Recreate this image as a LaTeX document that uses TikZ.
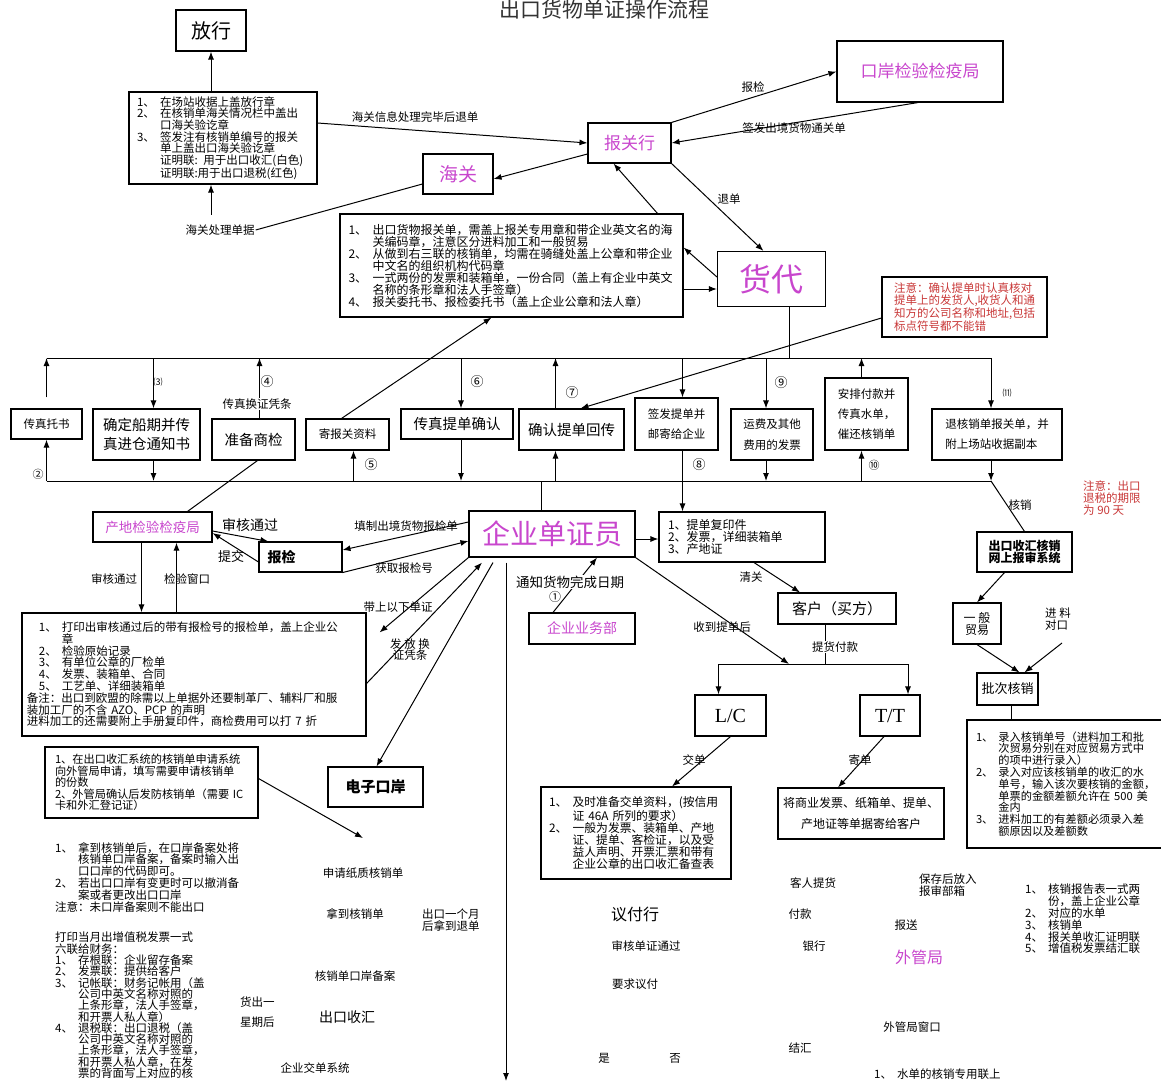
\documentclass[tikz,border=0pt]{standalone}
\usepackage{fontspec}
\setmainfont{Noto Sans CJK SC}
\newfontfamily\latinserif{Liberation Serif}
\usetikzlibrary{arrows.meta}
\definecolor{mag}{RGB}{200,70,205}
\definecolor{notered}{RGB}{200,55,55}
\newcommand\fsz[2]{\fontsize{#1}{#2}\selectfont}
\newcommand\itemno[1]{\makebox[2em][l]{#1、}}
\newcommand\itemgap{\hspace*{2em}}

\begin{document}
\begin{tikzpicture}[x=1pt, y=-1pt,
    box/.style={draw, line width=1.1pt, inner sep=2pt, align=center},
    txt/.style={font=\fsz{11.5}{11.8}, inner sep=0pt, align=left},
    lbl/.style={font=\fsz{11.5}{12}, inner sep=1pt},
    num/.style={font=\fsz{13}{13}, inner sep=0pt},
    arr/.style={line width=1pt, -{Latex[length=8pt,width=6pt]}},
    con/.style={line width=1pt}]

    \useasboundingbox (0,0) rectangle (1161,1083);

    \node[font=\fsz{21}{21}, text=black!80] (title) at (604,9) {出口货物单证操作流程};

    \node[box, minimum width=70pt, minimum height=41pt, font=\fsz{20}{20}] (fangxing) at (211,30.5) {放行};
    \node[box, minimum width=188pt, minimum height=92pt, text width=172pt, align=left, font=\fsz{11.5}{11.7}] (customsnote) at (223,138) {\itemno{1}在场站收据上盖放行章\\\itemno{2}在核销单海关情况栏中盖出\\\itemgap 口海关验讫章\\\itemno{3}签发注有核销单编号的报关\\\itemgap 单上盖出口海关验讫章\\\itemgap 证明联: 用于出口收汇(白色)\\\itemgap 证明联:用于出口退税(红色)};
    \node[lbl] (hgdoc) at (220,230) {海关处理单据};
    \coordinate (hgtip) at (211,215);
    \node[box, minimum width=70pt, minimum height=40pt, font=\fsz{19}{19}, text=mag] (haiguan) at (458,174) {海关};
    \node[box, minimum width=83pt, minimum height=40pt, font=\fsz{17}{17}, text=mag] (bgh) at (629.5,143) {报关行};
    \node[box, minimum width=166pt, minimum height=61pt, font=\fsz{17}{17}, text=mag] (kouan) at (920,71.5) {口岸检验检疫局};
    \node[box, minimum width=343pt, minimum height=103pt, text width=326pt, align=left, font=\fsz{12}{12}] (declbox) at (511.5,265.5) {\itemno{1}出口货物报关单，需盖上报关专用章和带企业英文名的海\\\itemgap 关编码章，注意区分进料加工和一般贸易\\\itemno{2}从做到右三联的核销单，均需在骑缝处盖上公章和带企业\\\itemgap 中文名的组织机构代码章\\\itemno{3}一式两份的发票和装箱单，一份合同（盖上有企业中英文\\\itemgap 名称的条形章和法人手签章）\\\itemno{4}报关委托书、报检委托书（盖上企业公章和法人章）};
    \node[box, minimum width=108pt, minimum height=55pt, font=\fsz{32}{32}, text=mag] (huodai) at (771.5,279) {货代};
    \node[box, minimum width=165pt, minimum height=60pt, text width=141pt, align=left, text=notered, font=\fsz{11.5}{11.5}] (warnnote) at (964.5,307) {注意：确认提单时认真核对\\提单上的发货人,收货人和通\\知方的公司名称和地址,包括\\标点符号都不能错};

    \draw[arr] (customsnote.north -| fangxing) -- (fangxing.south);
    \draw[arr] (hgtip) -- (customsnote.south -| hgtip);
    \draw[con] (hgdoc.east) -- ([yshift=-10pt]haiguan.west);
    \draw[arr] ([yshift=15pt]customsnote.east) -- (bgh.west);
    \node[lbl] (lblback) at (415,117) {海关信息处理完毕后退单};
    \draw[arr] ([yshift=-11pt]bgh.west) -- ([yshift=-5pt]haiguan.east);
    \draw[arr] (bgh.north east) -- (kouan.west);
    \node[lbl] (lblcheck) at (753,87) {报检};
    \draw[arr] ([xshift=-2pt]kouan.south) -- (bgh.east);
    \node[lbl] (lblpass) at (794,128) {签发出境货物通关单};
    \draw[arr] (bgh.south east) -- ([xshift=-8pt]huodai.north);
    \node[lbl] (lblreturn) at (729,199) {退单};
    \draw[arr] ([xshift=146pt]declbox.north) -- ([xshift=-16pt]bgh.south);
    \draw[arr] ([yshift=-10pt]huodai.west -| declbox.east) -- ([yshift=-10pt]huodai.west);
    \draw[arr] ([yshift=2pt]huodai.west) -- ([yshift=18pt]declbox.east);

    \coordinate (topl) at (0,358);
    \coordinate (botl) at (0,481);

    \node[box, minimum width=71pt, minimum height=30pt, font=\fsz{11.5}{12}] (faxbook) at (46.5,424) {传真托书};
    \node[box, minimum width=107pt, minimum height=51pt, font=\fsz{14.5}{19}] (shipdate) at (146.5,434.5) {确定船期并传\\真进仓通知书};
    \node[box, minimum width=83pt, minimum height=41pt, font=\fsz{14.5}{15}] (prepinsp) at (253.5,439.5) {准备商检};
    \node[box, minimum width=83pt, minimum height=31pt, font=\fsz{11.5}{12}] (senddocs) at (347.5,434.5) {寄报关资料};
    \node[box, minimum width=112pt, minimum height=30pt, font=\fsz{14.5}{15}] (faxbl) at (457,424) {传真提单确认};
    \node[box, minimum width=105pt, minimum height=41pt, font=\fsz{14.5}{15}] (confirmbl) at (571.5,429.5) {确认提单回传};
    \node[box, minimum width=83pt, minimum height=52pt, font=\fsz{11.5}{20}] (issuebl) at (676.5,424) {签发提单并\\邮寄给企业};
    \node[box, minimum width=82pt, minimum height=51pt, font=\fsz{11.5}{21}] (freight) at (772,434.5) {运费及其他\\费用的发票};
    \node[box, minimum width=83pt, minimum height=72pt, font=\fsz{11.5}{20}, align=left] (payment) at (866.5,414) {安排付款并\\传真水单，\\催还核销单};
    \node[box, minimum width=130pt, minimum height=51pt, font=\fsz{11.5}{20}, align=left] (returnform) at (997,434.5) {退核销单报关单，并\\附上场站收据副本};

    \draw[con] (faxbook.north |- topl) -- ([xshift=-6pt]returnform.north |- topl);
    \draw[con] (faxbook.south |- botl) -- ([xshift=-6pt]returnform.south |- botl);
    \draw[con] ([xshift=18pt]huodai.south) -- ([xshift=18pt]huodai.south |- topl);

    \draw[arr] ([yshift=11pt]faxbook.north) -- (faxbook.north |- topl);
    \draw[arr] (faxbook.south |- botl) -- (faxbook.south);
    \draw[arr] ([xshift=7pt]shipdate.north |- topl) -- ([xshift=7pt]shipdate.north);
    \draw[arr] ([xshift=7pt]shipdate.south) -- ([xshift=7pt]shipdate.south |- botl);
    \draw[arr] ([xshift=6pt]prepinsp.north) -- ([xshift=6pt]prepinsp.north |- topl);
    \draw[arr] ([xshift=6pt]senddocs.south |- botl) -- ([xshift=6pt]senddocs.south);
    \draw[arr] ([xshift=-6pt]senddocs.north) -- ([xshift=-20pt]declbox.south);
    \draw[arr] ([xshift=4pt]faxbl.north |- topl) -- ([xshift=4pt]faxbl.north);
    \draw[arr] ([xshift=4pt]faxbl.south) -- ([xshift=4pt]faxbl.south |- botl);
    \draw[arr] ([xshift=-16pt]confirmbl.north) -- ([xshift=-16pt]confirmbl.north |- topl);
    \draw[arr] ([xshift=-16pt]confirmbl.south |- botl) -- ([xshift=-16pt]confirmbl.south);
    \draw[arr] ([yshift=-11pt]warnnote.west) -- ([xshift=9pt]confirmbl.north);
    \draw[arr] ([xshift=6pt]issuebl.north |- topl) -- ([xshift=6pt]issuebl.north);
    \draw[arr] ([xshift=-6pt]freight.north |- topl) -- ([xshift=-6pt]freight.north);
    \draw[arr] ([xshift=-6pt]freight.south) -- ([xshift=-6pt]freight.south |- botl);
    \draw[arr] ([xshift=-5pt]payment.north) -- ([xshift=-5pt]payment.north |- topl);
    \draw[arr] ([xshift=-5pt]payment.south |- botl) -- ([xshift=-5pt]payment.south);
    \draw[arr] ([xshift=-6pt]returnform.north |- topl) -- ([xshift=-6pt]returnform.north);
    \draw[arr] ([xshift=-6pt]returnform.south) -- ([xshift=-6pt]returnform.south |- botl);

    \node[lbl, fill=white] (lblswap) at (257,404) {传真换证凭条};
    \node[num, font=\fsz{11}{11}] (c2) at (38,474) {②};
    \node[num, font=\fsz{9}{9}] (c3) at (158,382) {⑶};
    \node[num] (c4) at (267,382) {④};
    \node[num] (c5) at (371,465) {⑤};
    \node[num] (c6) at (477,382) {⑥};
    \node[num] (c7) at (572,393) {⑦};
    \node[num] (c8) at (699,465) {⑧};
    \node[num] (c9) at (781,383) {⑨};
    \node[num, font=\fsz{11}{11}] (c10) at (874,465) {⑩};
    \node[num, font=\fsz{9}{9}] (c11) at (1007,393) {⑾};

    \node[box, minimum width=166pt, minimum height=46pt, font=\fsz{28}{28}, text=mag] (clerk) at (552,534) {企业单证员};
    \node[box, minimum width=119pt, minimum height=30pt, font=\fsz{13.5}{14}, text=mag] (chandi) at (152.5,527) {产地检验检疫局};
    \node[box, minimum width=83pt, minimum height=30pt, text width=66pt, align=left, font=\fsz{14}{14}\bfseries] (baojian) at (300.5,557) {报检};
    \node[box, minimum width=344pt, minimum height=123pt, text width=334pt, align=left, font=\fsz{11.5}{11.8}] (bigleft) at (194,674.5) {\hspace*{12pt}\itemno{1}打印出审核通过后的带有报检号的报检单，盖上企业公\\\hspace*{12pt}\itemgap 章\\\hspace*{12pt}\itemno{2}检验原始记录\\\hspace*{12pt}\itemno{3}有单位公章的厂检单\\\hspace*{12pt}\itemno{4}发票、装箱单、合同\\\hspace*{12pt}\itemno{5}工艺单、详细装箱单\\备注：出口到欧盟的除需以上单据外还要制革厂、辅料厂和服\\装加工厂的不含 AZO、PCP 的声明\\进料加工的还需要附上手册复印件，商检费用可以打 7 折};
    \node[box, minimum width=95pt, minimum height=40pt, font=\fsz{15}{15}\bfseries] (dzka) at (375.5,787) {电子口岸};
    \node[box, minimum width=213pt, minimum height=71pt, text width=193pt, align=left, font=\fsz{11.2}{11.6}] (leftapp) at (151.5,782.5) {1、在出口收汇系统的核销单申请系统\\向外管局申请，填写需要申请核销单\\的份数\\2、外管局确认后发防核销单（需要 IC\\卡和外汇登记证）};
    \node[box, minimum width=106pt, minimum height=31pt, font=\fsz{14}{14}, text=mag] (dept) at (582,628.5) {企业业务部};

    \draw[con] ([xshift=4pt]prepinsp.south) -- ([xshift=35pt]chandi.north);
    \draw[con] ([xshift=-11pt]clerk.north |- botl) -- ([xshift=-11pt]clerk.north);
    \draw[arr] ([yshift=-4pt]chandi.east) -- ([xshift=10pt]baojian.north west);
    \draw[arr] ([yshift=-5pt]baojian.west) -- ([yshift=-6pt]chandi.east);
    \node[lbl, font=\fsz{14}{14}] (lblok1) at (250,525) {审核通过};
    \node[lbl, font=\fsz{13}{13}] (lblsubmit) at (231,557) {提交};
    \draw[arr] ([yshift=12pt]clerk.west) -- ([yshift=7pt]baojian.east);
    \node[lbl] (lblfill) at (406,526) {填制出境货物报检单};
    \draw[arr] (baojian.south east) -- ([yshift=-7pt]clerk.west);
    \node[lbl] (lblget) at (404,568) {获取报检号};
    \draw[arr] ([xshift=-11pt]chandi.south) -- ([xshift=-11pt]chandi.south |- bigleft.north);
    \draw[arr] ([xshift=24pt]chandi.south |- bigleft.north) -- ([xshift=24pt]chandi.south);
    \node[lbl] (lblok2) at (114,579) {审核通过};
    \node[lbl] (lblwin) at (187,579) {检验窗口};
    \draw[arr] (clerk.south west) -- ([xshift=13pt,yshift=-20pt]bigleft.north east);
    \node[lbl] (lbltake) at (398,607) {带上以下单证};
    \draw[arr] ([yshift=-9pt]bigleft.east) -- ([xshift=-70pt,yshift=-5pt]clerk.south);
    \node[lbl, align=center, font=\fsz{11.5}{11}] (lblissue) at (410,650) {发 放 换\\证凭条};
    \draw[arr] ([xshift=-59pt,yshift=-5pt]clerk.south) -- ([xshift=1pt]dzka.north);
    \coordinate (paperend) at (363,838);
    \draw[arr] ([yshift=4pt]leftapp.east) -- (paperend);
    \coordinate (timeend) at (506,1081);
    \draw[arr] ([xshift=-46pt,yshift=-5pt]clerk.south) -- (timeend);
    \draw[arr] ([xshift=-29pt]dept.north) -- ([xshift=45pt]clerk.south);
    \node[lbl, fill=white, font=\fsz{13.5}{14}] (lblnotify) at (570,582) {通知货物完成日期};
    \node[num, font=\fsz{12}{12}] (c1) at (555,597) {①};

    \node[box, minimum width=166pt, minimum height=50pt, text width=148pt, align=left, font=\fsz{12}{12}] (docsbox) at (742,537) {1、提单复印件\\2、发票，详细装箱单\\3、产地证};
    \node[box, minimum width=118pt, minimum height=31pt, font=\fsz{15}{15}] (kehu) at (837,608.5) {客户（买方）};
    \node[box, minimum width=71pt, minimum height=41pt, font=\latinserif\fsz{20}{20}] (lc) at (730.5,715.5) {L/C};
    \node[box, minimum width=60pt, minimum height=41pt, font=\latinserif\fsz{20}{20}] (tt) at (890,715.5) {T/T};
    \node[box, minimum width=190pt, minimum height=92pt, text width=174pt, align=left, font=\fsz{11.8}{10.8}] (lcdocs) at (636,833) {\itemno{1}及时准备交单资料，(按信用\\\itemgap 证 46A 所列的要求）\\\itemno{2}一般为发票、装箱单、产地\\\itemgap 证、提单、客检证，以及受\\\itemgap 益人声明、开票汇票和带有\\\itemgap 企业公章的出口收汇备查表\\[8pt]};
    \node[box, minimum width=166pt, minimum height=51pt, font=\fsz{12}{21}] (ttdocs) at (861,813.5) {将商业发票、纸箱单、提单、\\产地证等单据寄给客户};
    \coordinate (fork) at (825,664);

    \draw[arr] ([yshift=-5pt]clerk.east) -- ([yshift=-5pt]clerk.east -| docsbox.west);
    \draw[arr] ([xshift=12pt]docsbox.south) -- ([xshift=-37pt]kehu.north);
    \node[lbl] (lblclear) at (751,577) {清关};
    \draw[arr] ([xshift=6pt]issuebl.south) -- ([xshift=6pt]issuebl.south |- docsbox.north);
    \draw[arr] (clerk.south east) -- ([xshift=-36pt]fork);
    \node[lbl] (lblrecv) at (722,627) {收到提单后};
    \draw[con] ([xshift=-12pt]kehu.south) -- (fork);
    \draw[arr] (fork) -| ([xshift=-12pt]lc.north);
    \draw[arr] (fork) -| ([xshift=18pt]tt.north);
    \node[lbl, fill=white] (lblpay) at (835,647) {提货付款};
    \draw[arr] (lc.south) -- ([xshift=36pt]lcdocs.north);
    \node[lbl] (lblsubmitdoc) at (694,760) {交单};
    \draw[arr] ([xshift=-6pt]tt.south) -- ([xshift=-23pt]ttdocs.north);
    \node[lbl] (lblmail) at (860,760) {寄单};

    \node[box, minimum width=95pt, minimum height=40pt, font=\fsz{12}{12}\bfseries] (hxsys) at (1024.5,552) {出口收汇核销\\网上报审系统};
    \node[txt, text=notered, anchor=north west] (taxnote) at (1083,481) {注意：出口\\退税的期限\\为 90 天};
    \node[box, minimum width=48pt, minimum height=41pt, font=\fsz{12}{12}] (ybmy) at (977,623.5) {一 般\\贸易};
    \node[txt, anchor=north west] (jinliao) at (1045,608) {进 料\\对口};
    \coordinate (jlstart) at (1062,643);
    \node[box, minimum width=61pt, minimum height=32pt, font=\fsz{13}{13}] (pici) at (1007.5,689) {批次核销};
    \node[box, minimum width=208pt, minimum height=128pt, text width=190pt, align=left, font=\fsz{11.2}{11.8}] (bigright) at (1071,784) {\itemno{1}录入核销单号（进料加工和批\\\itemgap 次贸易分别在对应贸易方式中\\\itemgap 的项中进行录入）\\\itemno{2}录入对应该核销单的收汇的水\\\itemgap 单号，输入该次要核销的金额，\\\itemgap 单票的金额差额允许在 500 美\\\itemgap 金内\\\itemno{3}进料加工的有差额必须录入差\\\itemgap 额原因以及差额数};

    \draw[con] ([xshift=-6pt]returnform.south |- botl) -- (hxsys.north);
    \node[lbl] (lblhx) at (1020,505) {核销};
    \draw[arr] ([xshift=-20pt]hxsys.south) -- (ybmy.north);
    \draw[arr] (ybmy.south) -- ([xshift=12pt]pici.north);
    \draw[arr] (jlstart) -- ([xshift=17pt]pici.north);
    \draw[con] ([xshift=4pt]pici.south) -- ([xshift=4pt]pici.south |- bigright.north);

    \node[txt, anchor=north west] (kouanrec) at (55,842) {\itemno{1}拿到核销单后，在口岸备案处将\\\itemgap 核销单口岸备案，备案时输入出\\\itemgap 口口岸的代码即可。\\\itemno{2}若出口口岸有变更时可以撤消备\\\itemgap 案或者更改出口口岸\\注意：未口岸备案则不能出口};
    \node[txt, anchor=north west, font=\fsz{11.5}{11.3}] (vatnote) at (55,932) {打印当月出增值税发票一式\\六联给财务：\\\itemno{1}存根联：企业留存备案\\\itemno{2}发票联：提供给客户\\\itemno{3}记帐联：财务记帐用（盖\\\itemgap 公司中英文名称对照的\\\itemgap 上条形章，法人手签章，\\\itemgap 和开票人私人章）\\\itemno{4}退税联：出口退税（盖\\\itemgap 公司中英文名称对照的\\\itemgap 上条形章，法人手签章，\\\itemgap 和开票人私人章，在发\\\itemgap 票的背面写上对应的核};
    \node[lbl] (applypaper) at (363,873) {申请纸质核销单};
    \node[lbl] (gotform) at (355,914) {拿到核销单};
    \node[txt, anchor=north west] (onemonth) at (422,909) {出口一个月\\后拿到退单};
    \node[lbl] (formrec) at (355,976) {核销单口岸备案};
    \node[txt, anchor=north west, font=\fsz{11.5}{20}] (oneweek) at (240,997) {货出一\\星期后};
    \node[lbl, font=\fsz{14}{14}] (collect) at (347,1017) {出口收汇};
    \node[lbl] (submitsys) at (315,1068) {企业交单系统};

    \node[lbl, font=\fsz{16}{16}] (negbank) at (635,914) {议付行};
    \node[lbl] (auditok) at (646,946) {审核单证通过};
    \node[lbl] (reqneg) at (635,984) {要求议付};
    \node[lbl] (yes) at (604,1058) {是};
    \node[lbl] (no) at (675,1058) {否};
    \node[lbl] (pickup) at (813,883) {客人提货};
    \node[lbl] (paying) at (800,914) {付款};
    \node[lbl] (bank) at (814,946) {银行};
    \node[lbl] (settle) at (800,1048) {结汇};
    \node[txt, anchor=north west] (savebox) at (919,874) {保存后放入\\报审部箱};
    \node[lbl] (report) at (906,925) {报送};
    \node[lbl, font=\fsz{16}{16}, text=mag] (safe) at (919,957) {外管局};
    \node[lbl] (safewin) at (912,1027) {外管局窗口};
    \node[txt, anchor=north west] (slipnote) at (874,1069) {\itemno{1}水单的核销专用联上};
    \node[txt, anchor=north west] (reportlist) at (1025,884) {\itemno{1}核销报告表一式两\\\itemgap 份，盖上企业公章\\\itemno{2}对应的水单\\\itemno{3}核销单\\\itemno{4}报关单收汇证明联\\\itemno{5}增值税发票结汇联};
\end{tikzpicture}
\end{document}
